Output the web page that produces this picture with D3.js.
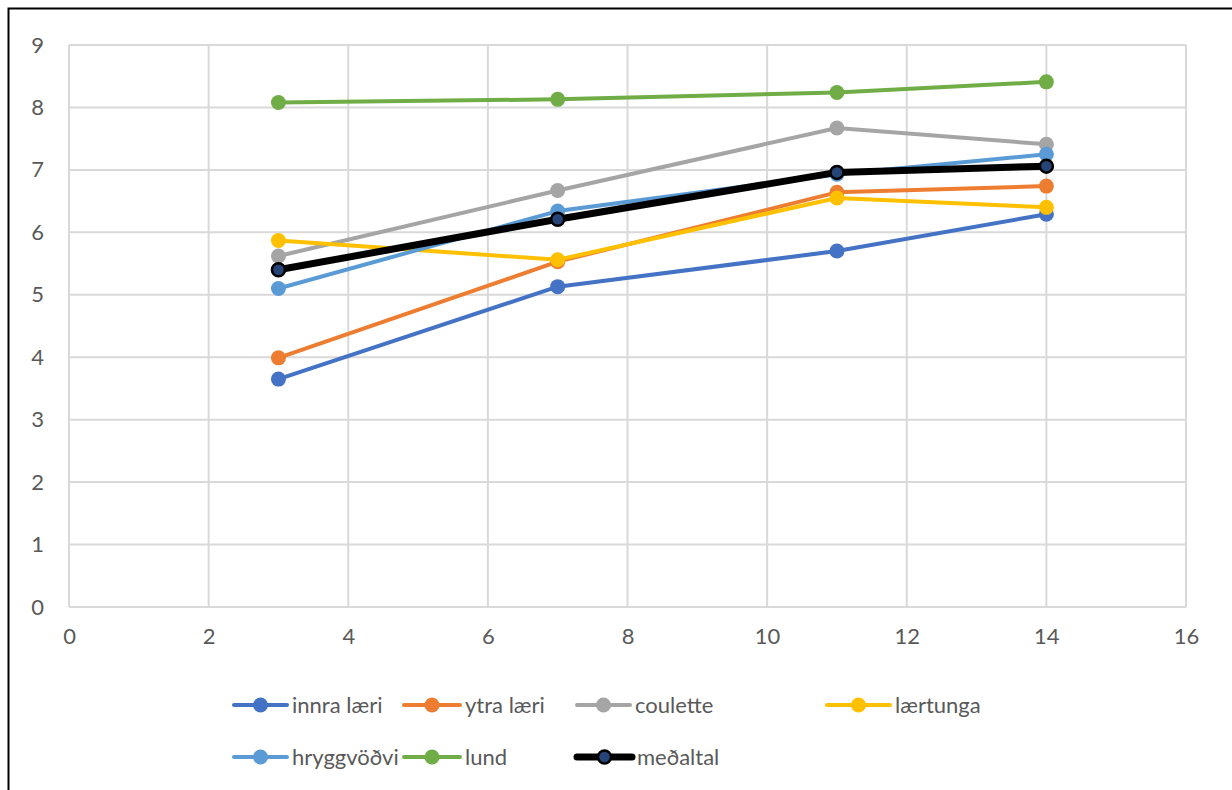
<!DOCTYPE html>
<html><head><meta charset="utf-8">
<script src="https://cdn.jsdelivr.net/npm/d3@7"></script>
<style>body{margin:0;background:#fff}svg{display:block}</style>
</head><body><svg id="c" width="1232" height="790"></svg>
<script>
const xValues = [3, 7, 11, 14];
const seriesNames = ["innra læri","ytra læri","coulette","lærtunga","hryggvöðvi","lund","meðaltal"];
const innraLaeri = [3.65, 5.13, 5.70, 6.29];
const ytraLaeri = [3.99, 5.53, 6.64, 6.74];
const coulette = [5.62, 6.67, 7.67, 7.41];
const laertunga = [5.87, 5.56, 6.55, 6.40];
const hryggvodvi = [5.10, 6.34, 6.93, 7.25];
const lund = [8.08, 8.13, 8.24, 8.41];
const medaltal = [5.40, 6.21, 6.96, 7.06];
const xTicks = [0,2,4,6,8,10,12,14,16];
const yTicks = [0,1,2,3,4,5,6,7,8,9];
const colors = ["#4472C4","#ED7D31","#A5A5A5","#FFC000","#5B9BD5","#70AD47","#000000"];
const allValues = [innraLaeri, ytraLaeri, coulette, laertunga, hryggvodvi, lund, medaltal];

const svg = d3.select("#c");
const font = "Lato, 'Open Sans', sans-serif";
svg.append("rect").attr("x",8.5).attr("y",8.5).attr("width",1240).attr("height",800)
  .attr("fill","#fff").attr("stroke","#000").attr("stroke-width",2);

const x = d3.scaleLinear().domain([0,16]).range([69,1186]);
const y = d3.scaleLinear().domain([0,9]).range([607,45]);

const grid = svg.append("g");
grid.selectAll("line.v").data(xTicks).enter().append("line")
  .attr("x1",d=>x(d)).attr("x2",d=>x(d)).attr("y1",y(0)).attr("y2",y(9))
  .attr("stroke","#d9d9d9").attr("stroke-width",2);
grid.selectAll("line.h").data(yTicks).enter().append("line")
  .attr("y1",d=>y(d)).attr("y2",d=>y(d)).attr("x1",x(0)).attr("x2",x(16))
  .attr("stroke","#d9d9d9").attr("stroke-width",2);

const xAxis = svg.append("g").attr("transform",`translate(0,${y(0)})`)
  .call(d3.axisBottom(x).tickValues(xTicks).tickSize(0).tickPadding(21));
xAxis.select(".domain").remove();
xAxis.selectAll("text").attr("font-family",font).attr("font-size",22).attr("fill","#595959");
const yAxis = svg.append("g").attr("transform",`translate(${x(0)},0)`)
  .call(d3.axisLeft(y).tickValues(yTicks).tickSize(0).tickPadding(25));
yAxis.select(".domain").remove();
yAxis.selectAll("text").attr("font-family",font).attr("font-size",22).attr("fill","#595959");

const line = d3.line().x((d,i)=>x(xValues[i])).y(d=>y(d));
allValues.forEach((vals,k)=>{
  const g = svg.append("g");
  const isMean = k===6;
  g.append("path").attr("d",line(vals)).attr("fill","none")
    .attr("stroke",colors[k]).attr("stroke-width",isMean?7:4).attr("stroke-linejoin","round");
  g.selectAll("circle").data(vals).enter().append("circle")
    .attr("cx",(d,i)=>x(xValues[i])).attr("cy",d=>y(d)).attr("r",isMean?6.5:7.5)
    .attr("fill",isMean?"#264478":colors[k])
    .attr("stroke",isMean?"#000":"none").attr("stroke-width",2.5);
});

const legPos = [[234,705],[404,705],[577,705],[827,705],[234,757],[404,757],[577,757]];
const legW = [53,56,53,63,53,56,55];
seriesNames.forEach((n,k)=>{
  const [lx,ly] = legPos[k];
  const g = svg.append("g");
  const isMean = k===6;
  g.append("line").attr("x1",lx).attr("x2",lx+legW[k]).attr("y1",ly).attr("y2",ly)
    .attr("stroke",colors[k]).attr("stroke-width",isMean?7:4).attr("stroke-linecap","round");
  g.append("circle").attr("cx",lx+legW[k]/2).attr("cy",ly).attr("r",isMean?6.5:7.5)
    .attr("fill",isMean?"#264478":colors[k]).attr("stroke",isMean?"#000":"none").attr("stroke-width",2.5);
  g.append("text").attr("x",lx+legW[k]+5).attr("y",ly).attr("dy","0.35em")
    .attr("font-family",font).attr("font-size",22).attr("fill","#595959").text(n);
});
</script></body></html>
